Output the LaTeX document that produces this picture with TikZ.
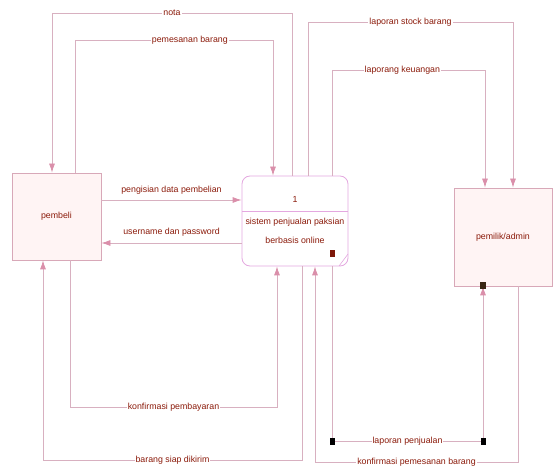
\documentclass[tikz,border=0pt]{standalone}
\usepackage{fontspec}
\setmainfont{Liberation Sans}
\usetikzlibrary{arrows.meta,calc}
\definecolor{lineC}{HTML}{D8B0C0}
\definecolor{arrC}{HTML}{DA8FAA}
\definecolor{boxF}{HTML}{FFF4F4}
\definecolor{boxB}{HTML}{D8A8B8}
\definecolor{procB}{HTML}{E4A8E0}
\definecolor{txtC}{HTML}{8B1A0A}
\begin{document}
\begin{tikzpicture}[x=1pt,y=-1pt,
  flow/.style={draw=lineC,line width=0.8pt,-{Latex[length=9pt,width=6pt,color=arrC,fill=arrC]}},
  lbl/.style={fill=white,inner sep=1pt,text=txtC,font=\fontsize{8.8}{10}\selectfont},
  tlbl/.style={text=txtC,font=\fontsize{8.8}{10}\selectfont,inner sep=1pt},
  entity/.style={draw=boxB,fill=boxF,line width=0.8pt,rectangle,text=txtC,font=\fontsize{8.8}{10}\selectfont},
  mark/.style={fill=#1,draw=none}
]
\useasboundingbox (0,0) rectangle (555,468);
% nodes
\node[entity,minimum width=89pt,minimum height=87pt] (pembeli) at (56.5,216.5) {pembeli};
\node[entity,minimum width=98pt,minimum height=98pt] (pemilik) at (503,237) {pemilik/admin};
\node[draw=procB,fill=white,line width=0.8pt,rounded corners=8pt,minimum width=106pt,minimum height=90pt] (proc) at (295,221) {};
\draw[procB,line width=0.8pt] (242,211) -- (348,211);
\draw[procB,line width=0.6pt] (339,266) -- (348,254);
\node[tlbl] (pnum) at (295,199) {1};
\node[tlbl] (pname1) at (295,222) {sistem penjualan paksian};
\node[tlbl] (pname2) at (295,240) {berbasis online};
\fill[txtC!90!black] (329.5,250.5) rectangle (335,257);

% top flows
\draw[flow] ([xshift=-3pt]proc.north) -- (292,13) -- node[lbl]{nota} (52,13) -- ([xshift=-4.5pt]pembeli.north);
\draw[flow] ([xshift=18.5pt]pembeli.north) -- (75,40) -- node[lbl,pos=0.58]{pemesanan barang} (273,40) -- ([xshift=-22pt]proc.north);
\draw[flow] ([xshift=13pt]proc.north) -- (308,22) -- node[lbl]{laporan stock barang} (513,22) -- ([xshift=10pt]pemilik.north);
\draw[flow] ([xshift=37pt]proc.north) -- (332,70) -- node[lbl,pos=0.46]{laporang keuangan} (485,70) -- ([xshift=-18pt]pemilik.north);

% middle flows
\draw[flow] ([yshift=16.5pt]pembeli.east) -- node[tlbl,above=4pt]{pengisian data pembelian} ([yshift=21pt]proc.west);
\draw[flow] ([yshift=-22pt]proc.west) -- node[tlbl,above=5pt]{username dan password} ([yshift=-26.5pt]pembeli.east);

% bottom flows
\draw[flow] ([xshift=13.5pt]pembeli.south) -- (70,407) -- node[lbl]{konfirmasi pembayaran} (277,407) -- ([xshift=-18pt]proc.south);
\draw[flow] ([xshift=7pt]proc.south) -- (302,460) -- node[lbl]{barang siap dikirim} (43,460) -- ([xshift=-13.5pt]pembeli.south);
\draw[flow] ([xshift=15pt]pemilik.south) -- (518,462) -- node[lbl]{konfirmasi pemesanan barang} (315,462) -- ([xshift=20pt]proc.south);
\draw[flow] ([xshift=37pt]proc.south) -- (332,441) -- node[lbl]{laporan penjualan} (483,441) -- ([xshift=-20pt]pemilik.south);
\fill[black] (329.5,437.5) rectangle (334.5,444.5);
\fill[black] (480.5,437.5) rectangle (485.5,444.5);
\fill[black!70!brown] (480,282) rectangle (485.5,289);
\end{tikzpicture}
\end{document}
